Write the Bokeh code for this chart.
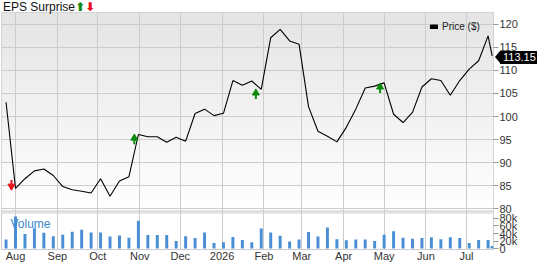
import numpy as np
import pandas as pd
from bokeh.plotting import figure
from bokeh.layouts import column
from bokeh.models import (Range1d, LinearAxis, FixedTicker, Grid, Label, Legend,
                          LegendItem, BoxAnnotation, Span, Div)
from bokeh.embed import file_html
from bokeh.resources import INLINE

# ---------------- data ----------------
week_dates = list(pd.date_range("2025-07-25", periods=52, freq="7D").strftime("%Y-%m-%d")) + ["2026-07-20"]
price = [103.1, 84.4, 86.5, 88.2, 88.6, 87.2, 84.8, 84.1, 83.8, 83.4,
         86.5, 82.7, 86.0, 86.95, 96.1, 95.6, 95.6, 94.4, 95.5, 94.65,
         100.65, 101.6, 100.2, 100.7, 107.8, 106.8, 107.7, 105.9, 117.1, 118.9,
         116.4, 115.7, 102.15, 96.8, 95.7, 94.5, 97.65, 101.6, 106.2, 106.6,
         107.3, 100.5, 98.7, 100.9, 106.4, 108.2, 107.8, 104.6, 107.8, 110.3,
         112.1, 117.5, 113.15]
volume_k = [24, 85, 39, 54, 42, 33, 37, 45, 50, 43,
            43, 32, 35, 29, 74, 36, 36, 36, 20, 33,
            28, 43, 15, 17, 31, 23, 17, 53, 43, 34,
            19, 24, 44, 32, 56, 25, 22, 24, 24, 20,
            37, 46, 29, 26, 28, 30, 25, 30, 28, 15,
            23, 23, 7]
eps_dates = ["2025-07-29", "2025-10-28", "2026-01-26", "2026-04-28"]
eps_tip = [84.4, 95.8, 105.6, 106.9]
eps_dir = ["down", "up", "up", "up"]
month_ticks = ["2025-08-01", "2025-09-01", "2025-10-01", "2025-11-01", "2025-12-01",
               "2026-01-01", "2026-02-01", "2026-03-01", "2026-04-01", "2026-05-01",
               "2026-06-01", "2026-07-01"]
month_labels = ["Aug", "Sep", "Oct", "Nov", "Dec", "2026", "Feb", "Mar", "Apr", "May", "Jun", "Jul"]
price_ticks = [80, 85, 90, 95, 100, 105, 110, 115, 120]
volume_ticks_k = [0, 20, 40, 60, 80]
volume_tick_labels = ["0", "20k", "40k", "60k", "80k"]


def to_ms(lst):
    return [int(v) for v in pd.to_datetime(lst).values.astype("datetime64[ms]").astype("int64")]


x = to_ms(week_dates)
eps_x = to_ms(eps_dates)
mt = to_ms(month_ticks)
DAY = 86400000

# ---------------- geometry ----------------
W, H = 537, 264
FL, FR, FT, FB = 1, 493, 12, 252          # frame edges in px
px_per_day = 1.3503
aug1 = mt[0]
x_start = aug1 - (15 - FL) / px_per_day * DAY
x_end = x_start + (FR - FL) / px_per_day * DAY
ppu = 4.667                                # px per price unit
y_top = 120 + (24 - FT) / ppu
y_bot = 120 - (FB - 24) / ppu
ppk = 0.38                                 # px per 1k volume
v_bot = -(FB - 251) / ppk
v_top = (251 - FT) / ppk


def X(px):
    return x_start + (px - FL) / (FR - FL) * (x_end - x_start)


def Y(py):
    return y_top - (py - FT) / (FB - FT) * (y_top - y_bot)


p = figure(width=W, height=H, output_backend="svg", toolbar_location=None,
           x_axis_type=None, y_axis_type=None,
           x_range=Range1d(x_start, x_end), y_range=Range1d(y_bot, y_top),
           min_border_left=FL, min_border_right=W - FR, min_border_top=FT,
           min_border_bottom=H - FB)
p.extra_y_ranges = {"vol": Range1d(v_bot, v_top)}
p.outline_line_color = "#cccccc"
p.background_fill_color = "white"
p.border_fill_color = "white"
p.xgrid.visible = False
p.ygrid.visible = False

# gradient background for the price panel
sep_top = Y(213)
sep_bot = Y(216)
N = 200
t = np.linspace(0, 1, N)
img = np.zeros((N, 1), dtype=np.uint32)
view = img.view(dtype=np.uint8).reshape((N, 1, 4))
c = (255 - 26 * t).astype(np.uint8)
view[:, 0, 0] = c
view[:, 0, 1] = c
view[:, 0, 2] = c
view[:, 0, 3] = 255
gr = p.image_rgba(image=[img], x=x_start, y=sep_top, dw=x_end - x_start, dh=y_top - sep_top)
gr.level = "image"

p.add_layout(BoxAnnotation(bottom=sep_bot, top=sep_top, fill_color="#e6e6e6", fill_alpha=1,
                           line_color=None, level="underlay"))
p.add_layout(Span(location=sep_top, dimension="width", line_color="#cccccc", line_width=1,
                  level="underlay"))

# grids
p.add_layout(Grid(dimension=0, ticker=FixedTicker(ticks=mt), grid_line_color="#cccccc"))
p.add_layout(Grid(dimension=1, ticker=FixedTicker(ticks=price_ticks), grid_line_color="#cccccc"))

# volume
p.vbar(x=x, top=volume_k, bottom=0, width=2.2 * DAY, y_range_name="vol",
       fill_color="#4a8fd4", line_color=None)

# price
p.line(x=x, y=price, line_color="black", line_width=1.1)

# EPS arrows
u = 1 / ppu
GREEN, RED = "#0a8a0a", "#e8101a"
for d, col, s, mk in (("up", GREEN, -1, "triangle"), ("down", RED, 1, "inverted_triangle")):
    xs = [ex for ex, dd in zip(eps_x, eps_dir) if dd == d]
    tips = [tp for tp, dd in zip(eps_tip, eps_dir) if dd == d]
    p.scatter(x=xs, y=[tp + s * 2.3 * u for tp in tips], marker=mk, size=7,
              fill_color=col, line_color=col)
    p.segment(x0=xs, y0=[tp + s * 4 * u for tp in tips], x1=xs,
              y1=[tp + s * 8.5 * u for tp in tips], line_color=col, line_width=2)

# axes
vol_in_price = [y_bot + (v - v_bot) * (y_top - y_bot) / (v_top - v_bot) for v in volume_ticks_k]
ticks = price_ticks + vol_in_price
overrides = {float(t_): str(t_) for t_ in price_ticks}
overrides.update({float(a): b for a, b in zip(vol_in_price, volume_tick_labels)})
yax = LinearAxis(ticker=FixedTicker(ticks=ticks), major_label_overrides=overrides,
                 axis_line_color=None, major_tick_line_color="#999999",
                 major_tick_out=5, major_tick_in=0, minor_tick_line_color=None,
                 major_label_standoff=1, major_label_text_font="Liberation Sans",
                 major_label_text_font_size="11px", major_label_text_color="#333333")
p.add_layout(yax, "right")

xax = LinearAxis(ticker=FixedTicker(ticks=mt),
                 major_label_overrides={m: l for m, l in zip(mt, month_labels)},
                 axis_line_color=None, major_tick_line_color=None, major_tick_out=0,
                 major_tick_in=0, minor_tick_line_color=None, major_label_standoff=0,
                 major_label_text_font="Liberation Sans", major_label_text_font_size="11px",
                 major_label_text_color="#333333")
p.add_layout(xax, "below")

# price legend (swatch renderer has no visible data)
nan = float("nan")
leg_r = p.quad(left=[nan], right=[nan], top=[nan], bottom=[nan], fill_color="black",
               line_color="black")
p.add_layout(Legend(items=[LegendItem(label="Price ($)", renderers=[leg_r])],
                    location=(428, 217), glyph_width=9, glyph_height=5, label_standoff=4,
                    padding=0, margin=0, spacing=0, label_height=10,
                    background_fill_alpha=0, border_line_color=None,
                    label_text_font="Liberation Sans", label_text_font_size="10px",
                    label_text_color="#222222"))

p.add_layout(Label(x=X(10), y=Y(226), text="Volume", text_baseline="middle",
                   text_font="Liberation Sans", text_font_size="12px", text_color="#3b88cc"))

# header and last-price tag, overlaid on the plot's border area
header = Div(text=("EPS Surprise"
                   f'<span style="font-family:\'DejaVu Sans\';font-size:12px;font-weight:bold;color:{GREEN}">⬆</span>'
                   f'<span style="font-family:\'DejaVu Sans\';font-size:12px;font-weight:bold;color:{RED}">⬇</span>'),
             width=120, height=12,
             styles={"position": "absolute", "left": "-2px", "top": "-4px", "z-index": "10",
                     "font-family": "'Liberation Sans'", "font-size": "12px",
                     "line-height": "12px", "color": "#111111", "white-space": "nowrap"})
ty = round(FT + (y_top - price[-1]) / (y_top - y_bot) * (FB - FT) - 6.5) - 3
tag = Div(text=('<span style="display:inline-block;width:0;height:0;vertical-align:top;'
                'border-top:6.5px solid transparent;border-bottom:6.5px solid transparent;'
                'border-right:5px solid black"></span>'
                '<span style="display:inline-block;vertical-align:top;background:black;'
                f'color:white;padding:0 2px 0 3px;height:13px;line-height:13px">{price[-1]:.2f}</span>'),
          width=W - FR + 3, height=13,
          styles={"position": "absolute", "left": f"{FR - 3}px", "top": f"{ty}px", "z-index": "10",
                  "font-family": "'Liberation Sans'", "font-size": "11px",
                  "line-height": "13px", "white-space": "nowrap"})

layout = column(p, header, tag, spacing=0)
open("out.html", "w").write(file_html(layout, INLINE))
